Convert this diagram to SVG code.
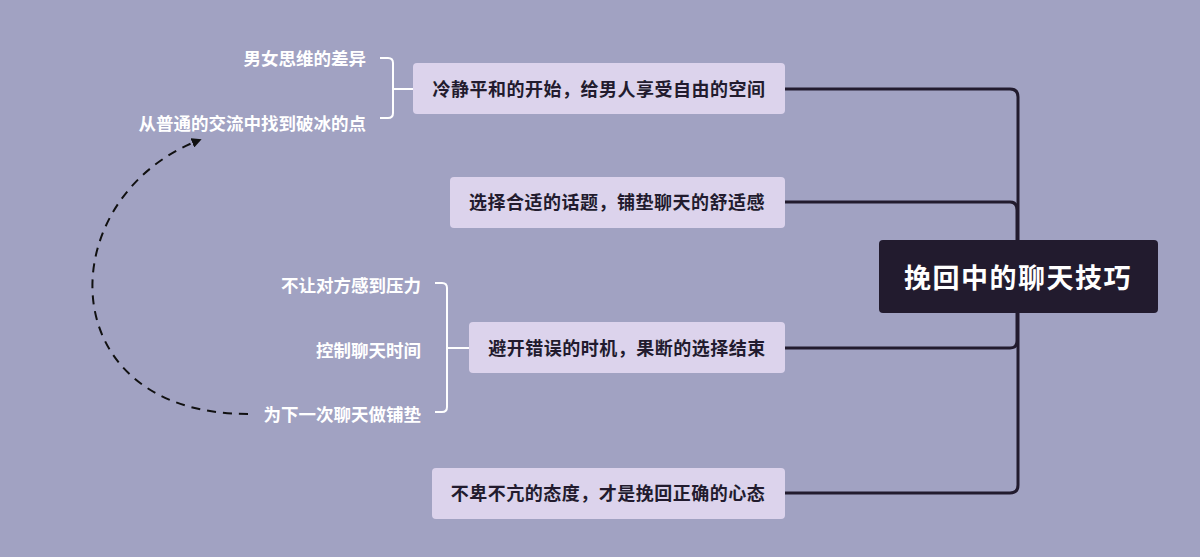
<svg xmlns="http://www.w3.org/2000/svg" width="1200" height="557" viewBox="0 0 1200 557">
<style>
.b{fill:#dcd3ec}
.bt{font-family:"Noto Sans CJK SC",sans-serif;font-size:18px;letter-spacing:0.5px;font-weight:bold;fill:#221b2e;text-anchor:middle}
.lt{font-family:"Noto Sans CJK SC",sans-serif;font-size:17.5px;font-weight:bold;fill:#ffffff;text-anchor:end}
.c{fill:none;stroke:#221b2e;stroke-width:3}
.w{fill:none;stroke:#ffffff;stroke-width:2}
</style>
<defs><marker id="a" markerWidth="10" markerHeight="10" refX="5" refY="5" orient="auto" markerUnits="userSpaceOnUse"><path d="M0,0 L10,5 L0,10 z" fill="#111"/></marker></defs>
<rect width="1200" height="557" fill="#a1a2c2"/>
<g id="connectors">
<path class="c" d="M785,89 H1010 Q1018,89 1018,97 V485 Q1018,493 1010,493 H785"/>
<path class="c" d="M785,202 H1010 Q1017,202 1017,210 V341 Q1017,348 1010,348 H785"/>
<path class="w" d="M380,58 H388 Q393,58 393,63 V113 Q393,118 388,118 H380 M393,89 H413"/>
<path class="w" d="M435,283 H442 Q447,283 447,288 V407 Q447,412 442,412 H435 M447,348 H469"/>
<path d="M248,414 C50,414 50,200 197,141" fill="none" stroke="#111" stroke-width="2" stroke-dasharray="9,7" marker-end="url(#a)"/>
</g>
<g id="center"><rect x="879" y="240" width="279" height="73" rx="4" fill="#221b2e"/><text x="1018" y="288" font-family="'Noto Sans CJK SC',sans-serif" font-size="27" letter-spacing="1.5" font-weight="bold" fill="#fff" text-anchor="middle">挽回中的聊天技巧</text></g>
<g id="n1"><rect class="b" x="413" y="63" width="372" height="51" rx="4"/><text class="bt" x="599" y="96">冷静平和的开始，给男人享受自由的空间</text></g>
<g id="n2"><rect class="b" x="450" y="177" width="335" height="51" rx="4"/><text class="bt" x="617" y="209">选择合适的话题，铺垫聊天的舒适感</text></g>
<g id="n3"><rect class="b" x="469" y="322" width="316" height="51" rx="4"/><text class="bt" x="627" y="355">避开错误的时机，果断的选择结束</text></g>
<g id="n4"><rect class="b" x="432" y="468" width="353" height="51" rx="4"/><text class="bt" x="608" y="500">不卑不亢的态度，才是挽回正确的心态</text></g>
<g id="l1"><text class="lt" x="366" y="65">男女思维的差异</text></g>
<g id="l2"><text class="lt" x="366" y="130">从普通的交流中找到破冰的点</text></g>
<g id="l3"><text class="lt" x="421" y="292">不让对方感到压力</text></g>
<g id="l4"><text class="lt" x="421" y="357">控制聊天时间</text></g>
<g id="l5"><text class="lt" x="421" y="421">为下一次聊天做铺垫</text></g>
</svg>
